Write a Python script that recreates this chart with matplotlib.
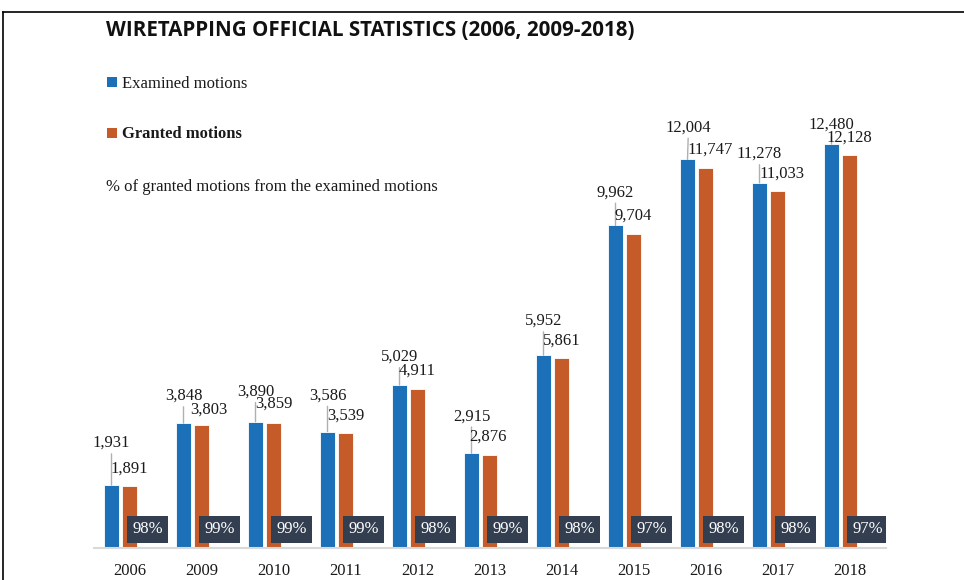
import numpy as np
import matplotlib
matplotlib.use("Agg")
import matplotlib.pyplot as plt
from matplotlib.patches import Rectangle
from matplotlib.lines import Line2D

# data
years = ['2006', '2009', '2010', '2011', '2012', '2013', '2014', '2015', '2016', '2017', '2018']
examined = [1931, 3848, 3890, 3586, 5029, 2915, 5952, 9962, 12004, 11278, 12480]
granted = [1891, 3803, 3859, 3539, 4911, 2876, 5861, 9704, 11747, 11033, 12128]
pct = ['98%', '99%', '99%', '99%', '98%', '99%', '98%', '97%', '98%', '98%', '97%']

# label offsets in pixels (dx, dy) from bar top, manually placed like the original
ex_off = [(0, 42), (0, 27), (0, 30), (0, 36), (0, 28), (0, 37), (0, 34), (0, 33), (1, 32), (0, 29), (0, 19)]
gr_off = [(0, 18), (7, 15), (0, 19), (0, 17), (0, 18), (-1, 18), (0, 17), (0, 18), (5, 18), (4, 17), (0, 18)]

blue = '#1c70b8'
orange = '#c45b28'
box_col = '#333e50'
serif = ['Liberation Serif', 'DejaVu Serif']

W, H = 964, 580
fig = plt.figure(figsize=(W / 100, H / 100), dpi=100)
ax = fig.add_axes([93.5 / W, 1 - 547.5 / H, 792 / W, 452.6 / H])

x = np.arange(len(years))
bw = 15 / 72
step = 18 / 72
ax.bar(x - step, examined, bw, color=blue, edgecolor='white', linewidth=0.6, zorder=2)
ax.bar(x, granted, bw, color=orange, edgecolor='white', linewidth=0.6, zorder=2)

ax.set_xlim(-0.5, len(years) - 0.5)
ax.set_ylim(0, 14000)
ypx = 452.6 / 14000  # pixels per unit

for i in range(len(years)):
    ax.annotate(f'{examined[i]:,}', xy=(x[i] - step, examined[i]), xytext=ex_off[i],
                textcoords='offset pixels', ha='center', va='center', fontsize=12,
                family=serif, color='#1a1a1a', zorder=4,
                arrowprops=dict(arrowstyle='-', color='#b0b0b0', lw=1.0,
                                shrinkA=0, shrinkB=0))
    ax.annotate(f'{granted[i]:,}', xy=(x[i], granted[i]), xytext=gr_off[i],
                textcoords='offset pixels', ha='center', va='center', fontsize=12,
                family=serif, color='#1a1a1a', zorder=4)
    # percentage box at the third (hidden) bar slot
    bx = x[i] + step
    ax.add_patch(Rectangle((bx - 20.5 / 72, 5 / ypx), 41 / 72, 27 / ypx,
                           facecolor=box_col, edgecolor='none', zorder=3))
    ax.text(bx, 18.5 / ypx, pct[i], ha='center', va='center', color='white',
            fontsize=12, family=serif, zorder=4)

ax.set_xticks(x)
ax.set_xticklabels(years, fontsize=12, family=serif, color='#1a1a1a')
ax.tick_params(axis='x', length=0, pad=11.5)
ax.set_yticks([])
for s in ['top', 'right', 'left']:
    ax.spines[s].set_visible(False)
ax.spines['bottom'].set_color('#d9d9d9')
ax.spines['bottom'].set_linewidth(1.5)

# title and legend-like texts
fig.text(106 / W, 1 - 30.5 / H, 'WIRETAPPING OFFICIAL STATISTICS (2006, 2009-2018)',
         fontsize=14.8, fontweight='bold', family=['Open Sans', 'DejaVu Sans'],
         ha='left', va='center', color='#111111')
fig.patches.append(Rectangle((107 / W, 1 - 87 / H), 10 / W, 10 / H, facecolor=blue,
                             edgecolor='none', transform=fig.transFigure, figure=fig))
fig.text(122 / W, 1 - 84 / H, 'Examined motions', fontsize=12, family=serif,
         ha='left', va='center', color='#1a1a1a')
fig.patches.append(Rectangle((107 / W, 1 - 138 / H), 10 / W, 10 / H, facecolor=orange,
                             edgecolor='none', transform=fig.transFigure, figure=fig))
fig.text(122 / W, 1 - 134.5 / H, 'Granted motions', fontsize=12, family=serif,
         fontweight='bold', ha='left', va='center', color='#1a1a1a')
fig.text(106 / W, 1 - 186.5 / H, '% of granted motions from the examined motions',
         fontsize=12, family=serif, ha='left', va='center', color='#1a1a1a')

# frame lines at top and left
fig.add_artist(Line2D([3 / W, 1], [1 - 12 / H, 1 - 12 / H], color='black', lw=1.2,
                      transform=fig.transFigure))
fig.add_artist(Line2D([3 / W, 3 / W], [0, 1 - 12 / H], color='black', lw=1.2,
                      transform=fig.transFigure))

fig.savefig('out.png', dpi=100)
